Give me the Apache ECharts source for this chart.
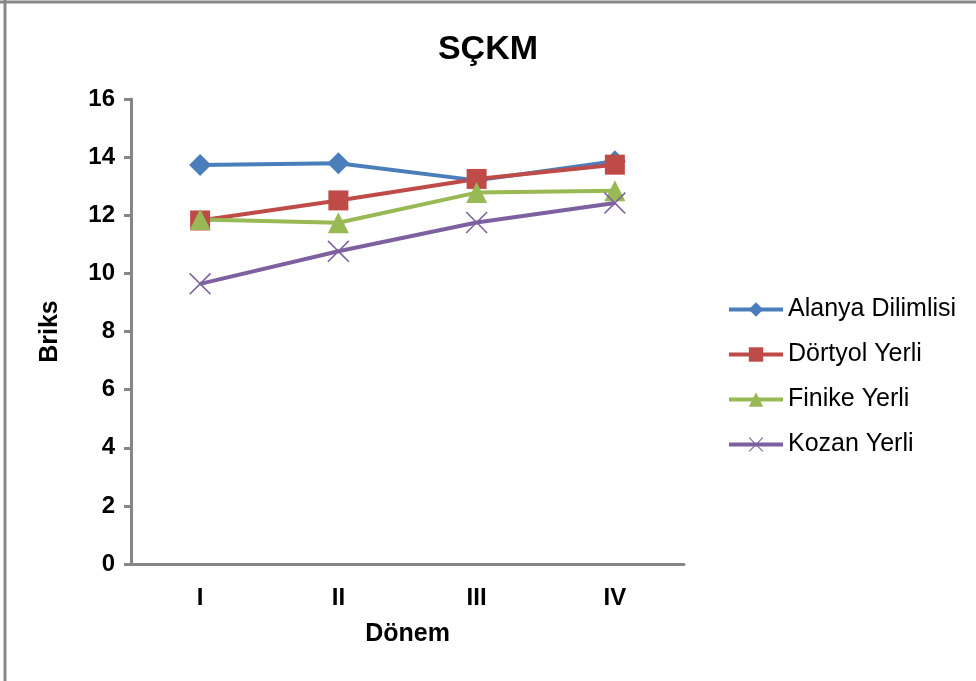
<!DOCTYPE html>
<html>
<head>
<meta charset="utf-8">
<title>SÇKM</title>
<script src="https://cdn.jsdelivr.net/npm/echarts@6/dist/echarts.min.js"></script>
<style>
  html, body { margin: 0; padding: 0; background: #fff; }
  #chart { width: 976px; height: 681px; }
</style>
</head>
<body>
<div id="chart"></div>
<script>
// values
const periods = ['I', 'II', 'III', 'IV']
const alanya = [13.73, 13.79, 13.2, 13.86]
const dortyol = [11.82, 12.51, 13.25, 13.74]
const finike = [11.85, 11.74, 12.78, 12.84]
const kozan = [9.64, 10.76, 11.75, 12.42]
const seriesNames = ['Alanya Dilimlisi', 'Dörtyol Yerli', 'Finike Yerli', 'Kozan Yerli']
const yTicks = { min: 0, max: 16, step: 2 }

const font = 'Liberation Sans, Arial, sans-serif'
const crossPath = 'path://M0,1 L1,0 L10,9 L19,0 L20,1 L11,10 L20,19 L19,20 L10,11 L1,20 L0,19 L9,10 Z'

const chart = echarts.init(document.getElementById('chart'))

const makeSeries = (name, data, color, symbol, size) => ({
  name: name,
  type: 'line',
  data: data,
  symbol: symbol,
  symbolSize: size,
  showAllSymbol: true,
  lineStyle: { color: color, width: 4 },
  itemStyle: { color: color },
  emphasis: { disabled: true }
})

const option = {
  backgroundColor: '#fff',
  animation: false,
  title: {
    text: 'SÇKM',
    left: 'center',
    top: 28,
    textStyle: { fontFamily: font, fontSize: 34, fontWeight: 'bold', color: '#000' }
  },
  legend: {
    orient: 'vertical',
    left: 722,
    top: 292,
    itemWidth: 54,
    itemHeight: 18,
    itemGap: 20,
    lineStyle: { width: 4 },
    textStyle: { fontFamily: font, fontSize: 25, color: '#000', lineHeight: 18 },
    data: seriesNames
  },
  grid: { left: 131, top: 99, right: 292, bottom: 117 },
  xAxis: {
    type: 'category',
    data: periods,
    boundaryGap: true,
    name: 'Dönem',
    nameLocation: 'middle',
    nameGap: 58,
    nameTextStyle: { fontFamily: font, fontSize: 25, fontWeight: 'bold', color: '#000' },
    axisLine: { lineStyle: { color: '#868686', width: 3 } },
    axisTick: { show: false },
    axisLabel: { fontFamily: font, fontSize: 24, fontWeight: 'bold', color: '#000', margin: 22 }
  },
  yAxis: {
    type: 'value',
    min: yTicks.min,
    max: yTicks.max,
    interval: yTicks.step,
    name: 'Briks',
    nameLocation: 'middle',
    nameGap: 68,
    nameTextStyle: { fontFamily: font, fontSize: 25, fontWeight: 'bold', color: '#000' },
    axisLine: { show: true, lineStyle: { color: '#868686', width: 3 } },
    axisTick: { show: true, length: 7, lineStyle: { color: '#868686', width: 3 } },
    splitLine: { show: false },
    axisLabel: { fontFamily: font, fontSize: 24, fontWeight: 'bold', color: '#000', margin: 16 }
  },
  graphic: [
    { type: 'line', shape: { x1: 0, y1: 2, x2: 976, y2: 2 }, style: { stroke: '#888', lineWidth: 3 } },
    { type: 'line', shape: { x1: 5, y1: 0, x2: 5, y2: 681 }, style: { stroke: '#888', lineWidth: 3 } }
  ],
  series: [
    makeSeries(seriesNames[0], alanya, '#4A7EBB', 'diamond', 22),
    makeSeries(seriesNames[1], dortyol, '#BE4B48', 'rect', 20),
    makeSeries(seriesNames[2], finike, '#98B954', 'triangle', 21),
    makeSeries(seriesNames[3], kozan, '#7D60A0', crossPath, 22)
  ]
}

chart.setOption(option)
</script>
</body>
</html>
